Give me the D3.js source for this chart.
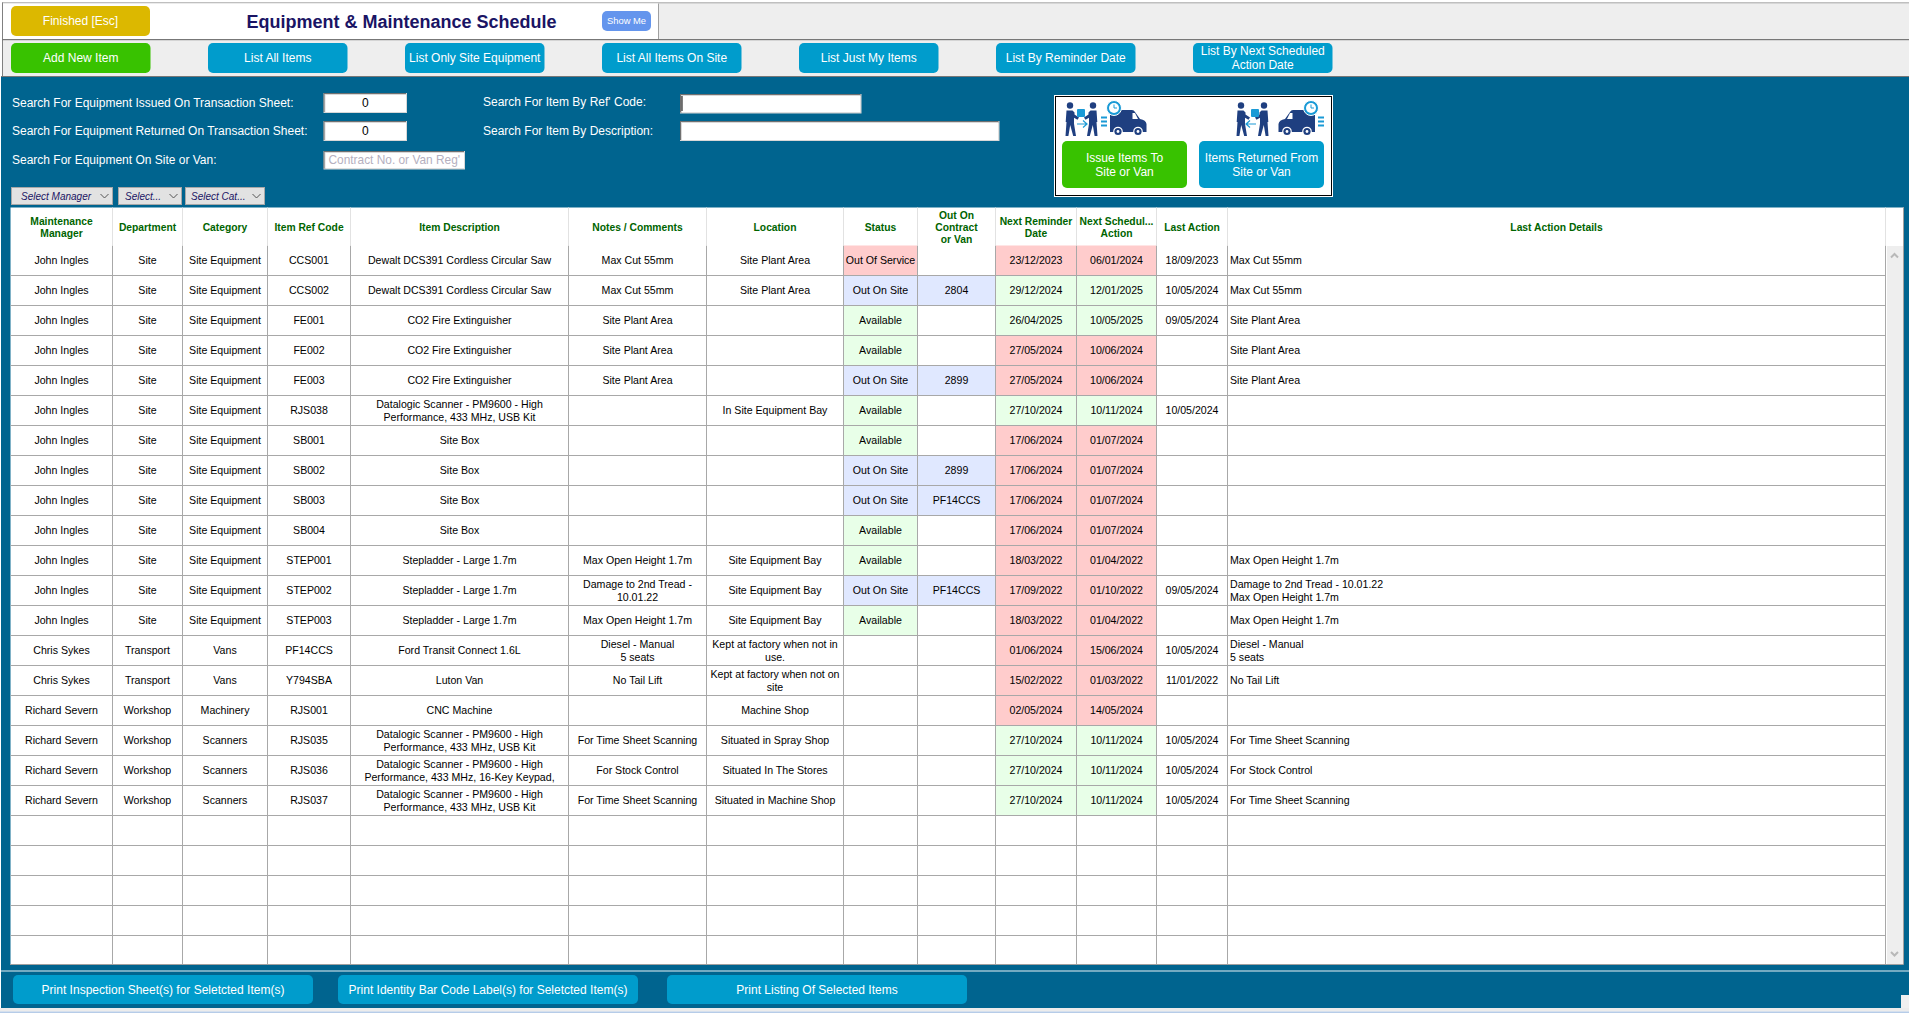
<!DOCTYPE html>
<html><head><meta charset="utf-8">
<script src="https://cdn.jsdelivr.net/npm/d3@7/dist/d3.min.js"></script>
<style>
html,body{margin:0;padding:0;background:#fff;overflow:hidden}
svg{display:block}
text{font-family:"Liberation Sans",Arial,sans-serif}
</style></head><body>
<svg id="c" width="1909" height="1013"></svg>
<script>
// ---------- data ----------
const headers = ["Maintenance\nManager","Department","Category","Item Ref Code","Item Description","Notes / Comments","Location","Status","Out On\nContract\nor Van","Next Reminder\nDate","Next Schedul...\nAction","Last Action","Last Action Details"];
const managers = ["John Ingles","John Ingles","John Ingles","John Ingles","John Ingles","John Ingles","John Ingles","John Ingles","John Ingles","John Ingles","John Ingles","John Ingles","John Ingles","Chris Sykes","Chris Sykes","Richard Severn","Richard Severn","Richard Severn","Richard Severn"];
const departments = ["Site","Site","Site","Site","Site","Site","Site","Site","Site","Site","Site","Site","Site","Transport","Transport","Workshop","Workshop","Workshop","Workshop"];
const categories = ["Site Equipment","Site Equipment","Site Equipment","Site Equipment","Site Equipment","Site Equipment","Site Equipment","Site Equipment","Site Equipment","Site Equipment","Site Equipment","Site Equipment","Site Equipment","Vans","Vans","Machinery","Scanners","Scanners","Scanners"];
const refCodes = ["CCS001","CCS002","FE001","FE002","FE003","RJS038","SB001","SB002","SB003","SB004","STEP001","STEP002","STEP003","PF14CCS","Y794SBA","RJS001","RJS035","RJS036","RJS037"];
const descriptions = ["Dewalt DCS391 Cordless Circular Saw","Dewalt DCS391 Cordless Circular Saw","CO2 Fire Extinguisher","CO2 Fire Extinguisher","CO2 Fire Extinguisher","Datalogic Scanner - PM9600 - High\nPerformance, 433 MHz, USB Kit","Site Box","Site Box","Site Box","Site Box","Stepladder - Large 1.7m","Stepladder - Large 1.7m","Stepladder - Large 1.7m","Ford Transit Connect 1.6L","Luton Van","CNC Machine","Datalogic Scanner - PM9600 - High\nPerformance, 433 MHz, USB Kit","Datalogic Scanner - PM9600 - High\nPerformance, 433 MHz, 16-Key Keypad,","Datalogic Scanner - PM9600 - High\nPerformance, 433 MHz, USB Kit"];
const notes = ["Max Cut 55mm","Max Cut 55mm","Site Plant Area","Site Plant Area","Site Plant Area","","","","","","Max Open Height 1.7m","Damage to 2nd Tread -\n10.01.22","Max Open Height 1.7m","Diesel - Manual\n5 seats","No Tail Lift","","For Time Sheet Scanning","For Stock Control","For Time Sheet Scanning"];
const locations = ["Site Plant Area","Site Plant Area","","","","In Site Equipment Bay","","","","","Site Equipment Bay","Site Equipment Bay","Site Equipment Bay","Kept at factory when not in\nuse.","Kept at factory when not on\nsite","Machine Shop","Situated in Spray Shop","Situated In The Stores","Situated in Machine Shop"];
const statuses = ["Out Of Service","Out On Site","Available","Available","Out On Site","Available","Available","Out On Site","Out On Site","Available","Available","Out On Site","Available","","","","","",""];
const outOn = ["","2804","","","2899","","","2899","PF14CCS","","","PF14CCS","","","","","","",""];
const reminders = ["23/12/2023","29/12/2024","26/04/2025","27/05/2024","27/05/2024","27/10/2024","17/06/2024","17/06/2024","17/06/2024","17/06/2024","18/03/2022","17/09/2022","18/03/2022","01/06/2024","15/02/2022","02/05/2024","27/10/2024","27/10/2024","27/10/2024"];
const nextActions = ["06/01/2024","12/01/2025","10/05/2025","10/06/2024","10/06/2024","10/11/2024","01/07/2024","01/07/2024","01/07/2024","01/07/2024","01/04/2022","01/10/2022","01/04/2022","15/06/2024","01/03/2022","14/05/2024","10/11/2024","10/11/2024","10/11/2024"];
const lastActions = ["18/09/2023","10/05/2024","09/05/2024","","","10/05/2024","","","","","","09/05/2024","","10/05/2024","11/01/2022","","10/05/2024","10/05/2024","10/05/2024"];
const lastDetails = ["Max Cut 55mm","Max Cut 55mm","Site Plant Area","Site Plant Area","Site Plant Area","","","","","","Max Open Height 1.7m","Damage to 2nd Tread - 10.01.22\nMax Open Height 1.7m","Max Open Height 1.7m","Diesel - Manual\n5 seats","No Tail Lift","","For Time Sheet Scanning","For Stock Control","For Time Sheet Scanning"];
const columns = [managers,departments,categories,refCodes,descriptions,notes,locations,statuses,outOn,reminders,nextActions,lastActions,lastDetails];
const emptyRows = 5;
const topActions = ["Add New Item","List All Items","List Only Site Equipment","List All Items On Site","List Just My Items","List By Reminder Date","List By Next Scheduled\nAction Date"];
const printActions = ["Print Inspection Sheet(s) for Seletcted Item(s)","Print Identity Bar Code Label(s) for Seletcted Item(s)","Print Listing Of Selected Items"];

// ---------- layout ----------
const colEdges = [10.5,112.5,182.5,267.5,350.5,568.5,706.5,843.5,917.5,995.5,1076.5,1156.5,1227.5,1885.5];
const nRows = managers.length + emptyRows;
const x = d3.scaleOrdinal(d3.range(colEdges.length), colEdges);
const y = d3.scaleBand(d3.range(nRows), [245.5, 965.5]);
const NAVY="#1f3f80", SKY="#1a9ad6", BTN="#009ccc", GREEN="#38c200", BLUE="#00648f", LINE="#a8a8a8";
const svg = d3.select("#c");
const FS = 10.6, HFS = 10.3;

const rect=(p,a,b,w,h,f,r)=>p.append("rect").attr("x",a).attr("y",b).attr("width",w).attr("height",h).attr("fill",f).attr("rx",r||0);
function label(p,str,cx,cy,o={}){
  const lh=o.lh||14, lines=str.split("\n"), t=p.append("text")
    .attr("text-anchor",o.anchor||"middle").attr("font-size",o.fs||12).attr("fill",o.fill||"#fff")
    .attr("font-weight",o.weight||null).attr("font-style",o.style||null);
  lines.forEach((l,i)=>t.append("tspan").attr("x",cx).attr("y",cy+(i-(lines.length-1)/2)*lh).attr("dy","0.35em").text(l));
  return t;
}
function button(p,x0,y0,w,h,f,str,o={}){
  rect(p,x0,y0,w,h,f,5);
  label(p,str,x0+w/2,y0+h/2,Object.assign({fs:12,lh:14},o));
}
function input(p,x0,y0,w,h,val,o={}){
  rect(p,x0,y0,w,h,"#d8d8d8");
  rect(p,x0,y0,w-1,h-1,"#707070");
  rect(p,x0+1,y0+1,w-2,h-2,"#d8d8d8");
  rect(p,x0+2,y0+2,w-3,h-3,"#fff");
  if(val) label(p,val,x0+w/2,y0+h/2-0.5,Object.assign({fs:12,fill:"#000"},o));
}

// ---------- frame ----------
rect(svg,0,0,1909,1013,"#fff");
rect(svg,2,2.5,1907,1,"#808080");
rect(svg,2,2.5,1,75,"#808080");
rect(svg,3,3.5,1906,35.5,"#eeeeee");
rect(svg,3,3.5,655.5,35.5,"#fff");
rect(svg,658,3.5,1,35.5,"#a0a0a0");
rect(svg,2,39,1907,1.5,"#777");
rect(svg,3,40.5,1906,36,"#eeeeee");
rect(svg,1,76.5,1908,931.5,BLUE);
rect(svg,1,76,1908,1,"#777");
rect(svg,0,1008,1909,3.5,"#ececec");
rect(svg,0,1011.5,1909,1.5,"#b6cce8");
rect(svg,1,970.5,1908,1,"#e8f0f4");
rect(svg,1901,995,8,13,"#f0f0f0");

// ---------- top controls ----------
button(svg,11,6,139,30,"#dcb800","Finished [Esc]");
label(svg,"Equipment & Maintenance Schedule",401.5,21.5,{fs:18,weight:"bold",fill:"#1a1464"});
button(svg,602,11,49,20,"#6495ed","Show Me",{fs:9.4});
topActions.forEach((s,i)=>{
  const x0=[11,208,405,602,799,996,1193][i];
  button(svg,x0,43,139.5,30,i?BTN:GREEN,s);
});

// ---------- search ----------
const lbl={anchor:"start",fs:12};
label(svg,"Search For Equipment Issued On Transaction Sheet:",12,103,lbl);
label(svg,"Search For Equipment Returned On Transaction Sheet:",12,131,lbl);
label(svg,"Search For Equipment On Site or Van:",12,160,lbl);
label(svg,"Search For Item By Ref' Code:",483,102,lbl);
label(svg,"Search For Item By Description:",483,131,lbl);
input(svg,323.5,93,83.5,20,"0");
input(svg,323.5,121,83.5,20,"0");
input(svg,323.5,151,141.5,18.5,"Contract No. or Van Reg'",{fill:"#b5b0c0",fs:11.9});
input(svg,680,94,181.5,19.5,"");
rect(svg,681.5,96,1,15,"#000");
input(svg,680,121,319.5,20,"");

// ---------- issue / return box ----------
rect(svg,1054,95,279,102,"#fff");
svg.append("rect").attr("x",1055.5).attr("y",96.5).attr("width",276).attr("height",99).attr("fill","#fff").attr("stroke","#000").attr("stroke-width",1);
button(svg,1062,141,125,47,GREEN,"Issue Items To\nSite or Van",{lh:14});
button(svg,1199,141,125,47,BTN,"Items Returned From\nSite or Van",{lh:14});

function person(p,px,flip){
  const g=p.append("g").attr("transform",`translate(${px},102)`+(flip?" scale(-1,1)":""));
  g.append("circle").attr("cx",5).attr("cy",3.5).attr("r",3.2).attr("fill",NAVY);
  g.append("path").attr("fill",NAVY).attr("d","M1.5 8.5 h6 l2 2 v2 l4.5 3 -1.5 2.2 -3.5 -2 v6 l2 12.3 h-2.8 l-3 -11 -1.8 11 h-2.9 l1 -14 h-0.8 z");
}
function van(p,vx,flip){
  const g=p.append("g").attr("transform",`translate(${vx},110)`+(flip?" scale(-1,1)":""));
  g.append("path").attr("fill",NAVY).attr("d","M0 3 Q0 0 3 0 H22 Q24 0 25 2 L30 9 Q36 10 36.5 14 V22 H0 Z");
  g.append("path").attr("fill","#fff").attr("d","M22.5 3 H25 L28 9 H22.5 Z");
  [8,28].forEach(c=>{
    g.append("circle").attr("cx",c).attr("cy",21.5).attr("r",4.8).attr("fill","#fff");
    g.append("circle").attr("cx",c).attr("cy",21.5).attr("r",3.6).attr("fill",NAVY);
    g.append("circle").attr("cx",c).attr("cy",21.5).attr("r",1.4).attr("fill","#fff");
  });
}
function clock(p,cx,cy){
  p.append("circle").attr("cx",cx).attr("cy",cy).attr("r",7.5).attr("fill",SKY).attr("stroke","#fff").attr("stroke-width",1);
  p.append("circle").attr("cx",cx).attr("cy",cy).attr("r",5).attr("fill","#fff");
  p.append("path").attr("d",`M${cx} ${cy-3.5} V${cy} H${cx+3}`).attr("fill","none").attr("stroke",SKY).attr("stroke-width",1);
}
function dashes(p,dx){ [116.5,120.5,124.5].forEach(v=>rect(p,dx,v,6,2,SKY)); }
function exchange(p,ax,bubbleX,left){
  rect(p,bubbleX,109,8,8,SKY,1);
  const a=ax, d=left?`M${a+10} 124 H${a} M${a+4} 120.5 L${a} 124 L${a+4} 127.5`:`M${a} 124 H${a+10} M${a+6} 120.5 L${a+10} 124 L${a+6} 127.5`;
  p.append("path").attr("d",d).attr("fill","none").attr("stroke",SKY).attr("stroke-width",1.2);
}
const ic=svg.append("g");
person(ic,1065,false); person(ic,1098,true); exchange(ic,1077,1077,false);
van(ic,1110,false); clock(ic,1114,108); dashes(ic,1101);
person(ic,1236,false); person(ic,1269,true); exchange(ic,1246,1251,true);
van(ic,1315,true); clock(ic,1311,108); dashes(ic,1318);

// ---------- dropdowns ----------
[[11,102,"Select Manager",10],[118,64,"Select...",7],[185,80,"Select Cat...",6]].forEach(([a,w,s,pad])=>{
  rect(svg,a,187,w,18,"#a8a8a8");
  rect(svg,a+1,188,w-2,16,"#e2e2e2");
  label(svg,s,a+pad,196,{anchor:"start",fs:10,style:"italic",fill:"#1a1464"});
  svg.append("path").attr("d",`M${a+w-12.5} 194 l4 4 l4 -4`).attr("fill","none").attr("stroke","#555").attr("stroke-width",1);
});

// ---------- table ----------
const T=svg.append("g");
rect(T,10.5,207.5,1892.5,757,"#fff");
rect(T,1887,246,16,718,"#eeeeee");
T.append("path").attr("d","M1891 257.5 l3.5 -3.5 l3.5 3.5").attr("fill","none").attr("stroke","#b8b8b8").attr("stroke-width",2);
T.append("path").attr("d","M1891 952 l3.5 3.5 l3.5 -3.5").attr("fill","none").attr("stroke","#b8b8b8").attr("stroke-width",2);

const overdue = s => { const [d,m,yr]=s.split("/").map(Number); return new Date(yr,m-1,d) < new Date(2024,7,1); };
const statusFill = {"Out Of Service":"#ffcccc","Out On Site":"#e0e8ff","Available":"#e8ffe8"};
function fillFor(c,v){
  if(!v) return null;
  if(c===7) return statusFill[v];
  if(c===8) return "#e0e8ff";
  if(c===9||c===10) return overdue(v)?"#ffcccc":"#e8ffe8";
  return null;
}
const cells = columns.flatMap((col,c)=>col.map((v,r)=>({c,r,v,f:fillFor(c,v)})));
T.selectAll("rect.cell").data(cells.filter(d=>d.f)).join("rect").attr("class","cell")
  .attr("x",d=>x(d.c)).attr("y",d=>y(d.r)).attr("width",d=>x(d.c+1)-x(d.c)).attr("height",y.bandwidth()).attr("fill",d=>d.f);

// grid
T.selectAll("line.h").data(d3.range(1,nRows)).join("line").attr("class","h")
  .attr("x1",10.5).attr("x2",1886).attr("y1",d=>y(d)).attr("y2",d=>y(d)).attr("stroke",LINE);
T.selectAll("line.v").data(d3.range(1,colEdges.length)).join("line").attr("class","v")
  .attr("x1",d=>x(d)).attr("x2",d=>x(d)).attr("y1",245.5).attr("y2",964.5).attr("stroke",LINE);
T.selectAll("line.hv").data(d3.range(1,colEdges.length)).join("line").attr("class","hv")
  .attr("x1",d=>x(d)).attr("x2",d=>x(d)).attr("y1",207.5).attr("y2",245.5).attr("stroke","#e2e2e2");
T.append("path").attr("d","M10 964.5 H1903.5 V207").attr("fill","none").attr("stroke","#a0a0a0");

// headers
headers.forEach((h,i)=>label(T,h,(x(i)+x(i+1))/2,227.5,{fs:HFS,weight:"bold",fill:"#006400",lh:12}));

// body
cells.filter(d=>d.v).forEach(d=>{
  const left=d.c===12;
  label(T,d.v,left?x(d.c)+2.5:(x(d.c)+x(d.c+1))/2,y(d.r)+y.bandwidth()/2-0.2,{fs:FS,fill:"#000",lh:13,anchor:left?"start":"middle"});
});

// ---------- print buttons ----------
printActions.forEach((s,i)=>{
  button(svg,[13,338,667][i],975,300,29,BTN,s);
});
</script></body></html>
